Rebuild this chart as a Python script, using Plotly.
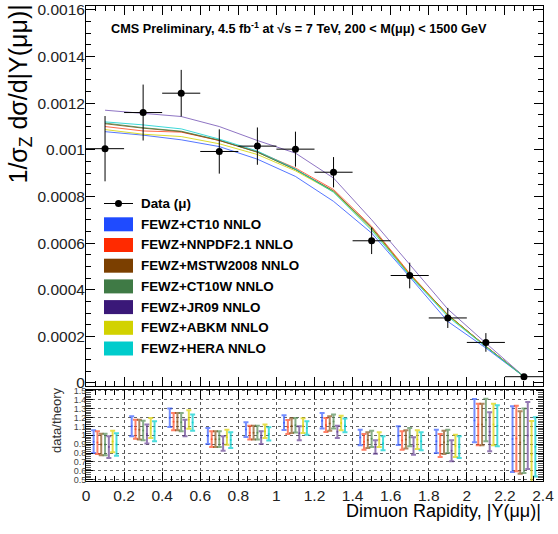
import plotly.graph_objects as go

# ---------------- data ----------------
bin_centers = [0.1, 0.3, 0.5, 0.7, 0.9, 1.1, 1.3, 1.5, 1.7, 1.9, 2.1, 2.3]
bin_half = [0.1] * 12

data_y = [0.001005, 0.00116, 0.001243, 0.000993, 0.001016, 0.001003,
          0.000904, 0.00061, 0.000461, 0.000279, 0.000174, 0.000027]
data_err = [0.00014, 0.00012, 0.0001, 0.000095, 0.00008, 0.000075,
            0.000065, 0.000057, 0.000055, 0.000043, 0.00004, 0.00001]

theory_names = ["FEWZ+CT10 NNLO", "FEWZ+NNPDF2.1 NNLO", "FEWZ+MSTW2008 NNLO",
                "FEWZ+CT10W NNLO", "FEWZ+JR09 NNLO", "FEWZ+ABKM NNLO", "FEWZ+HERA NNLO"]

ct10 = [0.001078, 0.001063, 0.001043, 0.001014, 0.000960, 0.000886,
        0.000779, 0.000643, 0.000455, 0.000264, 0.000150, 0.000027]
nnpdf = [0.001100, 0.001081, 0.001076, 0.001040, 0.000992, 0.000922,
         0.000830, 0.000672, 0.000470, 0.000292, 0.000158, 0.000028]
mstw = [0.001112, 0.001093, 0.001078, 0.001040, 0.000990, 0.000916,
        0.000824, 0.000666, 0.000466, 0.000293, 0.000157, 0.000028]
ct10w = [0.001115, 0.001095, 0.001080, 0.001042, 0.000990, 0.000915,
         0.000822, 0.000665, 0.000463, 0.000292, 0.000157, 0.000028]
jr09 = [0.001170, 0.001158, 0.001143, 0.001100, 0.001040, 0.000986,
        0.000879, 0.000700, 0.000507, 0.000317, 0.000171, 0.000028]
abkm = [0.001087, 0.001067, 0.001057, 0.001026, 0.000980, 0.000910,
        0.000820, 0.000660, 0.000465, 0.000290, 0.000156, 0.000027]
hera = [0.001120, 0.001107, 0.001090, 0.001046, 0.000995, 0.000918,
        0.000818, 0.000655, 0.000460, 0.000285, 0.000155, 0.000027]

# ratio data/theory: lower and upper ends of each bar
ratio_lo = {
    "ct10":  [0.80, 0.989, 1.093, 0.902, 0.981, 1.058, 1.075, 0.888, 0.89, 0.801, 0.921, 0.588],
    "nnpdf": [0.79, 0.962, 1.056, 0.868, 0.951, 1.015, 1.037, 0.838, 0.838, 0.756, 0.888, 0.596],
    "mstw":  [0.775, 0.951, 1.056, 0.868, 0.951, 1.024, 1.052, 0.857, 0.85, 0.79, 0.888, 0.568],
    "ct10w": [0.775, 0.944, 1.045, 0.868, 0.951, 1.03, 1.075, 0.868, 0.876, 0.801, 0.933, 0.576],
    "jr09":  [0.745, 0.906, 0.989, 0.827, 0.902, 0.945, 0.97, 0.793, 0.782, 0.708, 0.82, 0.621],
    "abkm":  [0.81, 0.97, 1.074, 0.894, 0.97, 1.025, 1.056, 0.868, 0.846, 0.756, 0.888, 0.40],
    "hera":  [0.77, 0.933, 1.052, 0.857, 0.94, 1.005, 1.034, 0.831, 0.831, 0.745, 0.876, 0.537],
}
ratio_hi = {
    "ct10":  [1.056, 1.213, 1.30, 1.082, 1.146, 1.224, 1.25, 1.063, 1.10, 1.063, 1.408, 1.326],
    "nnpdf": [1.045, 1.175, 1.25, 1.045, 1.108, 1.172, 1.194, 1.015, 1.045, 1.015, 1.355, 1.333],
    "mstw":  [1.018, 1.175, 1.25, 1.045, 1.108, 1.192, 1.213, 1.034, 1.056, 1.052, 1.355, 1.27],
    "ct10w": [1.018, 1.164, 1.25, 1.045, 1.108, 1.195, 1.232, 1.052, 1.082, 1.063, 1.411, 1.30],
    "jr09":  [0.989, 1.12, 1.175, 0.989, 1.045, 1.102, 1.108, 0.944, 0.978, 0.944, 1.258, 1.374],
    "abkm":  [1.052, 1.194, 1.281, 1.063, 1.12, 1.192, 1.22, 1.034, 1.056, 1.007, 1.355, 1.16],
    "hera":  [1.022, 1.157, 1.232, 1.034, 1.09, 1.158, 1.187, 0.989, 1.034, 0.989, 1.337, 1.202],
}

theory_keys = ["ct10", "nnpdf", "mstw", "ct10w", "jr09", "abkm", "hera"]
theory_vals = [ct10, nnpdf, mstw, ct10w, jr09, abkm, hera]

y_tickvals = [0, 0.0002, 0.0004, 0.0006, 0.0008, 0.001, 0.0012, 0.0014, 0.0016]
y_ticktext = ["0", "0.0002", "0.0004", "0.0006", "0.0008", "0.001", "0.0012", "0.0014", "0.0016"]
x_tickvals = [0, 0.2, 0.4, 0.6, 0.8, 1.0, 1.2, 1.4, 1.6, 1.8, 2.0, 2.2, 2.4]
x_ticktext = ["0", "0.2", "0.4", "0.6", "0.8", "1", "1.2", "1.4", "1.6", "1.8", "2", "2.2", "2.4"]
r_tickvals = [0.5, 0.6, 0.7, 0.8, 0.9, 1.0, 1.1, 1.2, 1.3, 1.4, 1.5]
r_ticktext = ["0.5", "0.6", "0.7", "0.8", "0.9", "1", "1.1", "1.2", "1.3", "1.4", "1.5"]

# ---------------- styles ----------------
line_colors = ["rgba(31,75,255,0.85)", "rgba(255,58,16,0.85)", "rgba(123,63,0,0.85)",
               "rgba(63,127,63,0.85)", "rgba(122,92,184,0.95)", "rgba(210,210,0,0.9)",
               "rgba(0,204,204,0.85)"]
legend_colors = ["#1f4bff", "#ff2a00", "#7b3f00", "#3f7a45", "#3a1878", "#d2d200", "#00cccc"]
bar_colors = ["rgba(40,80,255,0.65)", "rgba(255,60,20,0.65)", "rgba(130,70,10,0.65)",
              "rgba(70,130,70,0.65)", "rgba(90,50,140,0.65)", "rgba(220,210,0,0.7)",
              "rgba(0,205,205,0.7)"]
FONT = "Liberation Sans, Arial, sans-serif"

fig = go.Figure()

# theory curves (top panel)
for name, vals, col in zip(theory_names, theory_vals, line_colors):
    fig.add_trace(go.Scatter(x=bin_centers, y=vals, mode="lines",
                             line=dict(color=col, width=0.9), name=name,
                             xaxis="x", yaxis="y", showlegend=False))

# data points
fig.add_trace(go.Scatter(
    x=bin_centers, y=data_y, mode="markers",
    marker=dict(color="black", size=7),
    error_y=dict(type="data", array=data_err, color="black", thickness=1, width=0),
    error_x=dict(type="data", array=bin_half, color="black", thickness=1, width=0),
    xaxis="x", yaxis="y", showlegend=False, name="Data"))

# ratio bars
for k, (key, col) in enumerate(zip(theory_keys, bar_colors)):
    lo = ratio_lo[key]
    hi = ratio_hi[key]
    xs = [c - 0.06 + 0.02 * k for c in bin_centers]
    mids = [(a + b) / 2 for a, b in zip(lo, hi)]
    half = [(b - a) / 2 for a, b in zip(lo, hi)]
    fig.add_trace(go.Scatter(
        x=xs, y=mids, mode="markers",
        marker=dict(color=col, size=2),
        error_y=dict(type="data", array=half, color=col, thickness=2, width=2.5),
        xaxis="x2", yaxis="y2", showlegend=False, name=theory_names[k]))

# ---------------- layout ----------------
W, H = 558, 534
ml, mr, mt, mb = 86, 15, 6, 53
pw = W - ml - mr
ph = H - mt - mb


def px_x(p):
    return (p - ml) / pw


def px_y(p):
    return (H - mb - p) / ph


axis_common = dict(showline=True, linecolor="black", linewidth=1, mirror="ticks",
                   ticks="inside", tickcolor="black", zeroline=False, automargin=False)

fig.update_layout(
    width=W, height=H,
    margin=dict(l=ml, r=mr, t=mt, b=mb, autoexpand=False),
    paper_bgcolor="white", plot_bgcolor="white",
    font=dict(family=FONT, color="#222"),
    xaxis=dict(domain=[0, 1], anchor="y", range=[0, 2.4], matches="x2",
               tickvals=x_tickvals, showticklabels=False, ticklen=9, showgrid=False,
               minor=dict(dtick=0.05, tick0=0, ticklen=5, ticks="inside", tickcolor="black"),
               **axis_common),
    yaxis=dict(domain=[0.2, 1], anchor="x", range=[-0.0000129, 0.001617],
               tickvals=y_tickvals, ticktext=y_ticktext, ticklen=9, showgrid=False,
               tickfont=dict(size=15.5, family=FONT, color="#222"), ticklabelstandoff=-3,
               minor=dict(dtick=0.00005, tick0=0, ticklen=5, ticks="inside", tickcolor="black"),
               **axis_common),
    xaxis2=dict(domain=[0, 1], anchor="y2", range=[0, 2.4],
                tickvals=x_tickvals, ticktext=x_ticktext, ticklen=9,
                tickfont=dict(size=15.5, family=FONT, color="#222"),
                showgrid=True, gridcolor="#555", griddash="dot", gridwidth=1,
                minor=dict(dtick=0.05, tick0=0, ticklen=5, ticks="inside", tickcolor="black"),
                **axis_common),
    yaxis2=dict(domain=[0, 0.1922], anchor="x2", range=[0.486, 1.512],
                tickvals=r_tickvals, ticktext=r_ticktext, ticklen=7,
                tickfont=dict(size=9, family=FONT, color="#444"), ticklabelstandoff=-3,
                showgrid=True, gridcolor="#666", griddash="dot", gridwidth=1,
                minor=dict(dtick=0.02, tick0=0.5, ticklen=5, ticks="inside", tickcolor="#555"),
                **axis_common),
)

annotations = []
shapes = []

# title
annotations.append(dict(
    text="CMS Preliminary, 4.5 fb<sup>-1</sup> at √s = 7 TeV, 200 &lt; M(μμ) &lt; 1500 GeV",
    xref="paper", yref="paper", x=px_x(109), y=px_y(28), xanchor="left", yanchor="middle",
    showarrow=False, font=dict(size=12.7, family=FONT, color="black", weight="bold")))

# y-axis title (top panel)
annotations.append(dict(
    text="1/σ<sub>Z</sub> dσ/d|Y(μμ)|", textangle=-90,
    xref="paper", yref="paper", x=px_x(20), y=px_y(3), xanchor="center", yanchor="top",
    showarrow=False, font=dict(size=25, family=FONT, color="black")))

# ratio y title
annotations.append(dict(
    text="data/theory", textangle=-90,
    xref="paper", yref="paper", x=px_x(56), y=px_y(385), xanchor="center", yanchor="top",
    showarrow=False, font=dict(size=13, family=FONT, color="#333")))

# x-axis title
annotations.append(dict(
    text="Dimuon Rapidity, |Y(μμ)|",
    xref="paper", yref="paper", x=px_x(543), y=px_y(511), xanchor="right", yanchor="middle",
    showarrow=False, font=dict(size=18, family=FONT, color="black")))

# legend
leg_font = dict(size=13.4, family=FONT, color="black", weight="bold")
data_row = 203.5
shapes.append(dict(type="line", xref="paper", yref="paper",
                   x0=px_x(104), x1=px_x(133), y0=px_y(data_row), y1=px_y(data_row),
                   line=dict(color="black", width=1)))
shapes.append(dict(type="circle", xref="paper", yref="paper",
                   x0=px_x(115), x1=px_x(122), y0=px_y(data_row + 3.5), y1=px_y(data_row - 3.5),
                   fillcolor="black", line=dict(color="black", width=0)))
annotations.append(dict(text="Data (μ)", xref="paper", yref="paper",
                        x=px_x(139), y=px_y(data_row), xanchor="left", yanchor="middle",
                        showarrow=False, font=leg_font))
for i, (name, col) in enumerate(zip(theory_names, legend_colors)):
    yc = 224.3 + 20.7 * i
    shapes.append(dict(type="rect", xref="paper", yref="paper",
                       x0=px_x(104), x1=px_x(133), y0=px_y(yc + 7), y1=px_y(yc - 7),
                       fillcolor=col, line=dict(color=col, width=0)))
    annotations.append(dict(text=name, xref="paper", yref="paper",
                            x=px_x(139), y=px_y(yc), xanchor="left", yanchor="middle",
                            showarrow=False, font=leg_font))

fig.update_layout(annotations=annotations, shapes=shapes)

fig.write_html("out.html", config={"displayModeBar": False},
               post_script="document.body.style.margin='0';document.body.style.padding='0';")
